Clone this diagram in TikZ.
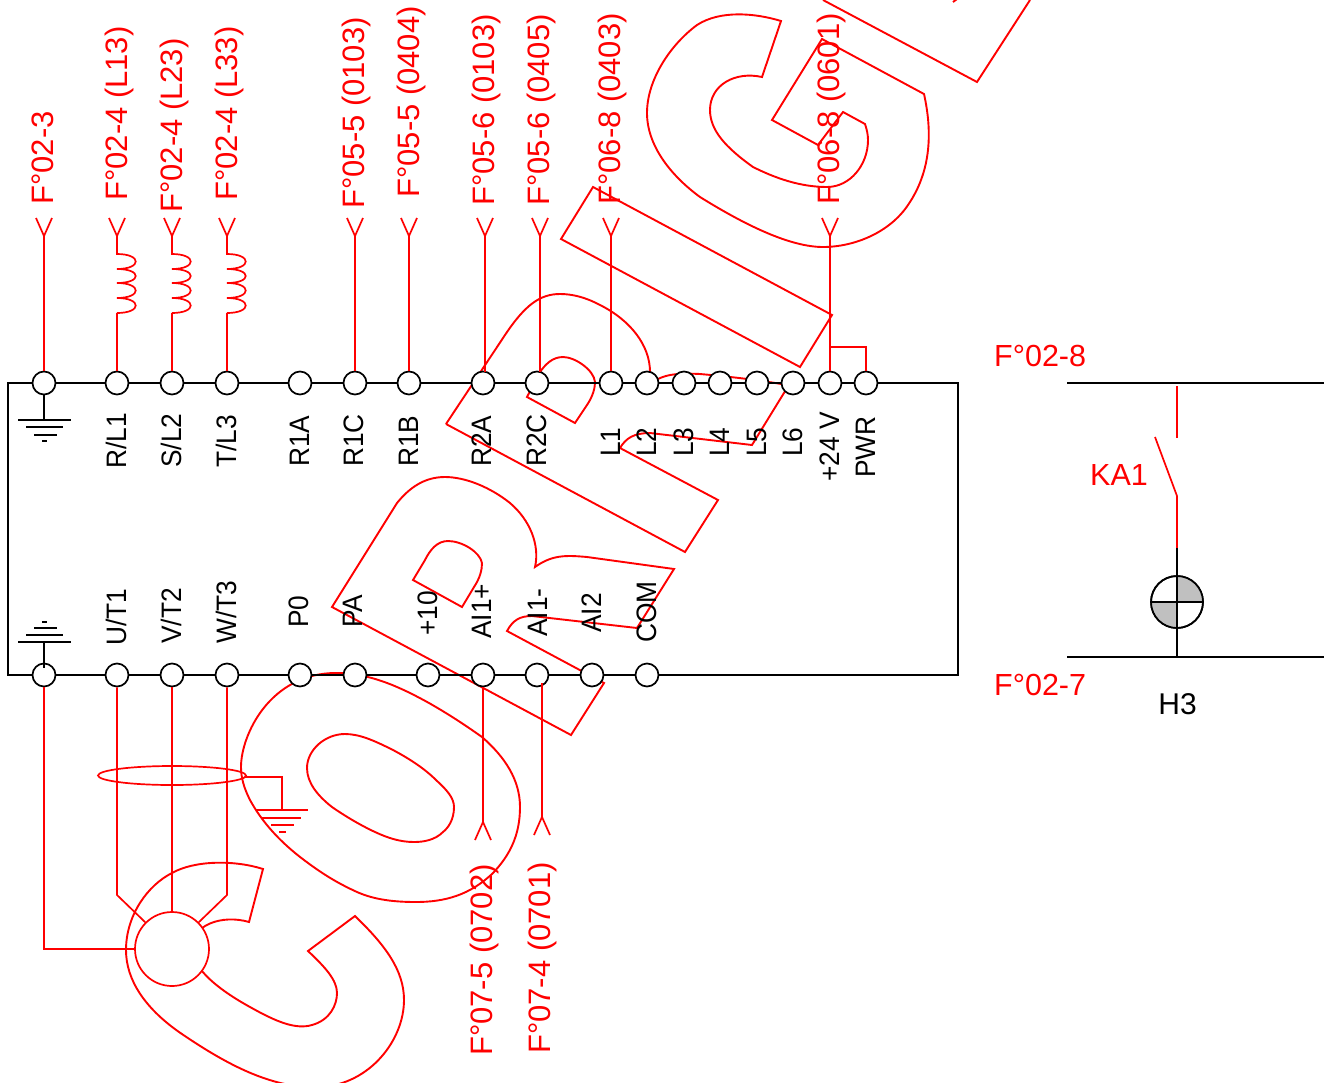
\documentclass[tikz,border=0pt]{standalone}
\usepackage{fontspec}
\usetikzlibrary{shapes.geometric}
\setmainfont{Liberation Sans}
\definecolor{rd}{RGB}{255,0,0}
\definecolor{lampgray}{RGB}{192,192,192}
\tikzset{
  wm/.style={draw=rd,line width=1.9pt,line join=miter},
  wire/.style={draw=rd,line width=1.7pt},
  blk/.style={draw=black,line width=1.7pt},
  term/.style={circle,draw=black,fill=white,line width=1.7pt,minimum size=23pt,inner sep=0pt},
  redv/.style={rotate=90,anchor=base west,inner sep=0pt,text=rd,font=\fontsize{31}{31}\selectfont},
  blkv/.style={rotate=90,anchor=base west,inner sep=0pt,text=black,font=\fontsize{26.3}{26.3}\selectfont},
  redh/.style={inner sep=0pt,text=rd,anchor=base west,font=\fontsize{30.5}{30.5}\selectfont},
}
\newcommand{\antup}[2]{\draw[wire] (#1-8,#2-18) -- (#1,#2) -- (#1+8,#2-18);}
\newcommand{\antdn}[2]{\draw[wire] (#1-8,#2+18) -- (#1,#2) -- (#1+8,#2+18);}
\newcommand{\coil}[1]{\draw[wire] (#1,236) -- (#1,254)
  .. controls (#1+25,254) and (#1+25,269) .. (#1,269)
  .. controls (#1+25,269) and (#1+25,283) .. (#1,283)
  .. controls (#1+25,283) and (#1+25,298) .. (#1,298)
  .. controls (#1+25,298) and (#1+25,313) .. (#1,313);}
\begin{document}
\begin{tikzpicture}[x=1pt,y=-1pt]
\useasboundingbox (0,0) rectangle (1333,1082);
% watermark
\begin{scope}
\clip (0,0) rectangle (1333,1082);
% C
\draw[wm] (263,869) -- (249,922) .. controls (222,914) and (190,925) .. (192,950)
  .. controls (193,965) and (210,985) .. (250,1007)
  .. controls (275,1021) and (295,1030) .. (312,1025)
  .. controls (330,1020) and (337,1005) .. (337,993)
  .. controls (337,980) and (325,967) .. (308,951) -- (355,916)
  .. controls (385,945) and (404,970) .. (404,1000)
  .. controls (404,1040) and (370,1084) .. (321,1087)
  .. controls (270,1090) and (220,1060) .. (179,1032)
  .. controls (145,1008) and (126,980) .. (126,950)
  .. controls (126,915) and (148,885) .. (172,873)
  .. controls (195,860) and (235,860) .. (263,869) -- cycle;
% O
\draw[wm] (336,673) .. controls (370,673) and (400,687) .. (429,703)
  .. controls (450,715) and (465,725) .. (482,737)
  .. controls (505,757) and (520,780) .. (520,807)
  .. controls (520,835) and (510,855) .. (493,873)
  .. controls (470,895) and (445,902) .. (416,902)
  .. controls (395,902) and (375,900) .. (357,892)
  .. controls (335,882) and (320,872) .. (304,860)
  .. controls (280,842) and (262,822) .. (250,800)
  .. controls (244,788) and (241,778) .. (241,767)
  .. controls (241,735) and (270,673) .. (336,673) -- cycle;
\draw[wm] (345,734) .. controls (360,734) and (375,741) .. (393,750)
  .. controls (410,759) and (425,769) .. (436,780)
  .. controls (447,790) and (454,798) .. (454,807)
  .. controls (454,820) and (448,828) .. (443,832)
  .. controls (435,840) and (424,842) .. (414,842)
  .. controls (400,842) and (388,838) .. (375,832)
  .. controls (360,825) and (345,816) .. (332,807)
  .. controls (318,796) and (307,783) .. (307,768)
  .. controls (307,750) and (325,734) .. (345,734) -- cycle;
% R lower
\draw[wm] (332,607) -- (571,735) -- (604,683) -- (507,631)
  .. controls (513,620) and (520,616) .. (532,616)
  -- (637,628) -- (674,569) -- (587,557)
  .. controls (565,555) and (552,555) .. (535,567)
  .. controls (540,545) and (530,520) .. (510,503)
  .. controls (490,487) and (465,477) .. (445,477)
  .. controls (425,477) and (410,487) .. (397,503)
  -- cycle;
\draw[wm] (413,580) -- (462,607) -- (474,587)
  .. controls (480,578) and (482,570) .. (482,563)
  .. controls (480,552) and (462,541) .. (448,541)
  .. controls (437,541) and (430,550) .. (425,560) -- cycle;
% R upper
\draw[wm] (446,424) -- (685,552) -- (718,500) -- (620,448)
  .. controls (626,438) and (634,433) .. (650,433)
  -- (752,445) -- (787,388)
  (787,385) .. controls (770,382) and (745,378) .. (700,374)
  .. controls (680,373) and (668,374) .. (658,379)
  (650,372) .. controls (650,345) and (630,320) .. (600,305)
  .. controls (585,297) and (572,294) .. (560,294)
  .. controls (540,294) and (525,305) .. (505,335) -- (446,424);
\draw[wm] (527,397) -- (575,423) -- (587,405)
  .. controls (593,396) and (595,388) .. (595,382)
  .. controls (594,370) and (575,357) .. (563,357)
  .. controls (552,357) and (545,365) .. (540,372) -- cycle;
% I
\draw[wm] (593,187) -- (832,315) -- (800,367) -- (561,239) -- cycle;
% G
\draw[wm] (781,21) -- (762,77) .. controls (735,71) and (710,85) .. (710,110)
  .. controls (710,130) and (725,147) .. (753,167)
  .. controls (775,178) and (800,187) .. (827,187)
  .. controls (850,187) and (868,165) .. (868,140)
  .. controls (868,135) and (867,130) .. (865,124)
  -- (843,112) -- (818,145) -- (772,120) -- (822,39) -- (924,94)
  .. controls (932,130) and (932,170) .. (908,205)
  .. controls (890,232) and (855,247) .. (823,247)
  .. controls (790,247) and (745,225) .. (700,197)
  .. controls (670,175) and (647,145) .. (647,113)
  .. controls (647,80) and (670,45) .. (697,25)
  .. controls (720,10) and (755,13) .. (781,21) -- cycle;
% E
\draw[wm] (823,0) -- (977,82) -- (1030,0);
\draw[wm] (953,2) -- (957,-1);
\end{scope}

% terminals
\node[term] (tPE) at (44,383) {};
\node[term] (tRL) at (117,383) {};
\node[term] (tSL) at (172,383) {};
\node[term] (tTL) at (227,383) {};
\node[term] (tRA) at (300,383) {};
\node[term] (tRC) at (355,383) {};
\node[term] (tRB) at (409,383) {};
\node[term] (tSA) at (483,383) {};
\node[term] (tSC) at (537,383) {};
\node[term] (tLa) at (611,383) {};
\node[term] (tLb) at (647,383) {};
\node[term] (tLc) at (684,383) {};
\node[term] (tLd) at (720,383) {};
\node[term] (tLe) at (757,383) {};
\node[term] (tLf) at (793,383) {};
\node[term] (tVV) at (830,383) {};
\node[term] (tPW) at (866,383) {};
\node[term] (bPE) at (44,675) {};
\node[term] (bUT) at (117,675) {};
\node[term] (bVT) at (172,675) {};
\node[term] (bWT) at (227,675) {};
\node[term] (bPO) at (300,675) {};
\node[term] (bPA) at (355,675) {};
\node[term] (bTE) at (428,675) {};
\node[term] (bAP) at (483,675) {};
\node[term] (bAM) at (537,675) {};
\node[term] (bAT) at (592,675) {};
\node[term] (bCO) at (647,675) {};
\coordinate (cTL) at (8,383);
\coordinate (cTR) at (958,383);
\coordinate (cBL) at (8,675);
\coordinate (cBR) at (958,675);
\draw[blk,line join=miter] (tPE) -- (cTL) -- (cBL) -- (bPE);
\draw[blk,line join=miter] (tPW) -- (cTR) -- (cBR) -- (bCO);
\foreach \a/\b in {tPE/tRL,tRL/tSL,tSL/tTL,tTL/tRA,tRA/tRC,tRC/tRB,tRB/tSA,tSA/tSC,tSC/tLa,tLa/tLb,tLb/tLc,tLc/tLd,tLd/tLe,tLe/tLf,tLf/tVV,tVV/tPW,
  bPE/bUT,bUT/bVT,bVT/bWT,bWT/bPO,bPO/bPA,bPA/bTE,bTE/bAP,bAP/bAM,bAM/bAT,bAT/bCO}
  \draw[blk] (\a) -- (\b);

% top ground
\coordinate (gT) at (44,420);
\draw[blk] (tPE) -- (gT);
\draw[blk] (18,420) -- (71,420) (26,427) -- (63,427) (34,435) -- (57,435) (42,441) -- (47,441);
% bottom ground
\coordinate (gB) at (44,642);
\draw[blk] (gB) -- (44,668);
\draw[blk] (18,642) -- (71,642) (26,635) -- (63,635) (34,628) -- (57,628) (42,622) -- (47,622);

% top stems and forks
\coordinate (aPE) at (44,236);
\coordinate (aRL) at (117,313);
\coordinate (aSL) at (172,313);
\coordinate (aTL) at (227,313);
\coordinate (aRC) at (355,236);
\coordinate (aRB) at (409,236);
\coordinate (aSA) at (485,236);
\coordinate (aSC) at (540,236);
\coordinate (aLa) at (611,236);
\coordinate (aVV) at (830,236);
\draw[wire] (aPE) -- (tPE);
\draw[wire] (aRL) -- (tRL);
\draw[wire] (aSL) -- (tSL);
\draw[wire] (aTL) -- (tTL);
\draw[wire] (aRC) -- (tRC);
\draw[wire] (aRB) -- (tRB);
\draw[wire] (aSA) -- (485,372);
\draw[wire] (aSC) -- (540,372);
\draw[wire] (aLa) -- (tLa);
\draw[wire] (aVV) -- (tVV);
\coordinate (pwk) at (830,347);
\draw[wire] (pwk) -- (866,347) -- (tPW);
\antup{44}{236}\antup{117}{236}\antup{172}{236}\antup{227}{236}\antup{355}{236}\antup{409}{236}\antup{485}{236}\antup{540}{236}\antup{611}{236}\antup{830}{236}
\coil{117}\coil{172}\coil{227}

% motor
\node[circle,draw=rd,fill=white,line width=1.7pt,minimum size=74pt,inner sep=0pt] (motor) at (172,949) {};
\draw[wire] (bPE) -- (44,949) -- (motor);
\draw[wire] (bUT) -- (117,895) -- (motor.135);
\draw[wire] (bVT) -- (motor);
\draw[wire] (bWT) -- (227,895) -- (motor.45);
% screen ring and earth
\node[ellipse,draw=rd,line width=1.7pt,minimum width=148pt,minimum height=19pt,inner sep=0pt] (ring) at (172,775.5) {};
\coordinate (gS) at (282,810);
\draw[wire] (245,777) -- (282,777) -- (gS);
\draw[wire] (256,810) -- (308,810) (262,818) -- (301,818) (271,825) -- (294,825) (279,832) -- (286,832);

% AI wires
\draw[wire] (bAP) -- (483,822);
\draw[wire] (542,683) -- (542,817);
\antdn{483}{822}\antdn{542}{817}

% right rung
\coordinate (r1) at (1067,383);\coordinate (r2) at (1324,383);
\coordinate (r3) at (1067,657);\coordinate (r4) at (1324,657);
\draw[blk] (r1) -- (r2);
\draw[blk] (r3) -- (r4);
\coordinate (k1) at (1177,386);\coordinate (k2) at (1177,438);
\coordinate (k3) at (1155,437);\coordinate (k4) at (1177,496);
\coordinate (k5) at (1177,548);\coordinate (k6) at (1177,657);
\draw[wire] (k1) -- (k2);
\draw[wire] (k3) -- (k4) -- (k5);
\node[circle,draw=black,fill=white,line width=1.7pt,minimum size=52pt,inner sep=0pt] (lamp) at (1177,602) {};
\fill[lampgray] (lamp.center) -- (1203,602) arc[start angle=0,end angle=90,radius=25.2pt] -- cycle;
\fill[lampgray] (lamp.center) -- (1151.8,602) arc[start angle=180,end angle=270,radius=25.2pt] -- cycle;
\draw[blk] (k5) -- (lamp.north) (lamp.south) -- (k6) (lamp.north) -- (lamp.south) (lamp.west) -- (lamp.east);
\draw[black,line width=1.7pt] (lamp.center) circle[radius=26pt];

% red labels, vertical
\foreach \n/\x/\y/\t in {l1/43/205/{F°02-3},l2/117/201/{F°02-4 (L13)},l3/172/213/{F°02-4 (L23)},l4/227/201/{F°02-4 (L33)},
  l5/354/209/{F°05-5 (0103)},l6/409/198/{F°05-5 (0404)},l7/484/206/{F°05-6 (0103)},l8/539/206/{F°05-6 (0405)},
  l9/610/205/{F°06-8 (0403)},l10/829/205/{F°06-8 (0601)},l11/482/1056/{F°07-5 (0702)},l12/540/1054/{F°07-4 (0701)}}
  \node[redv] (\n) at (\x+10.5,\y) {\t};
% black labels, vertical
\foreach \n/\x/\y/\t in {m1/117/469/{R/L1},m2/172/468/{S/L2},m3/227/468/{T/L3},m4/300/467/{R1A},m5/354/467/{R1C},m6/409/467/{R1B},
  m7/482/467/{R2A},m8/537/467/{R2C},m9/611/457/{L1},m10/647/457/{L2},m11/684/457/{L3},m12/720/457/{L4},m13/757/457/{L5},m14/793/457/{L6},
  m15/830/482/{+24 V},m16/866/478/{PWR},
  n1/117/646/{U/T1},n2/172/644/{V/T2},n3/227/644/{W/T3},n4/299/628/{P0},n5/353/628/{PA},n6/428/636/{+10},n7/482/639/{AI1+},n8/538/637/{AI1-},n9/592/633/{AI2},n10/647/643/{COM}}
  \node[blkv] (\n) at (\x+9.5,\y) {\scalebox{1}[1.07]{\t}};
% horizontal labels
\node[redh] (f8) at (994,366) {F°02-8};
\node[redh] (f7) at (994,695) {F°02-7};
\node[redh] (ka) at (1090,485) {KA1};
\node[inner sep=0pt,anchor=base,font=\fontsize{30}{30}\selectfont] (h3) at (1177.5,714) {H3};
\end{tikzpicture}
\end{document}
